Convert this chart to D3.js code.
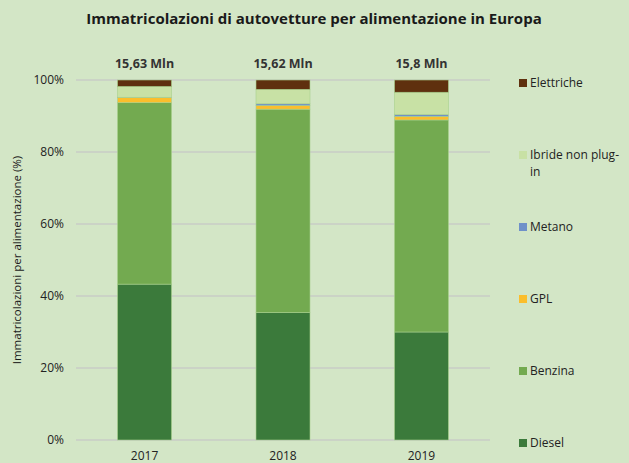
<!DOCTYPE html>
<html>
<head>
<meta charset="utf-8">
<script src="https://cdn.jsdelivr.net/npm/d3@7"></script>
<style>
  body { margin: 0; background: #d3e6c6; }
  svg { display: block; font-family: "Open Sans", Lato, sans-serif; }
</style>
</head>
<body>
<div class="main"></div>
<script>
const years = ["2017", "2018", "2019"];
const totals = ["15,63 Mln", "15,62 Mln", "15,8 Mln"];
const series = ["Diesel", "Benzina", "GPL", "Metano", "Ibride non plug-in", "Elettriche"];
const diesel = [43.3, 35.4, 30.0];
const benzina = [50.4, 56.5, 58.9];
const gpl = [1.4, 1.0, 1.0];
const metano = [0.1, 0.5, 0.5];
const ibride = [3.0, 4.0, 6.2];
const elettriche = [1.8, 2.6, 3.4];
const yTicks = [0, 20, 40, 60, 80, 100];

const colors = ["#3b7a3b", "#73aa50", "#fbbe2c", "#6f91c9", "#c8e1a5", "#5f300e"];

let fullwidth = 629;
let fullheight = 463;
let margin = { top: 80, right: 139, bottom: 23, left: 76 };
let width = fullwidth - margin.left - margin.right;
let height = fullheight - margin.top - margin.bottom;

const rows = years.map((y, i) => ({
  year: y,
  Diesel: diesel[i],
  Benzina: benzina[i],
  GPL: gpl[i],
  Metano: metano[i],
  "Ibride non plug-in": ibride[i],
  Elettriche: elettriche[i],
}));

const svg = d3
  .select(".main")
  .append("svg")
  .attr("width", fullwidth)
  .attr("height", fullheight);

svg.append("rect").attr("width", fullwidth).attr("height", fullheight).attr("fill", "#d3e6c6");

svg
  .append("text")
  .attr("x", 314)
  .attr("y", 24)
  .attr("text-anchor", "middle")
  .attr("font-size", 15)
  .attr("font-weight", "bold")
  .attr("fill", "#1a1a1a")
  .text("Immatricolazioni di autovetture per alimentazione in Europa");

const g = svg.append("g").attr("transform", "translate(" + margin.left + "," + margin.top + ")");

const x = d3.scaleBand().domain(years).range([0, width]).paddingInner(0.61).paddingOuter(0.3);
const y = d3.scaleLinear().domain([0, 100]).range([height, 0]);
const color = d3.scaleOrdinal().domain(series).range(colors);

// gridlines
g.append("g")
  .selectAll("line")
  .data(yTicks)
  .join("line")
  .attr("x1", 0)
  .attr("x2", width)
  .attr("y1", (d) => y(d))
  .attr("y2", (d) => y(d))
  .attr("stroke", "#c9cdc6")
  .attr("stroke-width", 1.5);

// y axis labels
g.append("g")
  .selectAll("text")
  .data(yTicks)
  .join("text")
  .attr("x", -12)
  .attr("y", (d) => y(d))
  .attr("dy", "0.35em")
  .attr("text-anchor", "end")
  .attr("font-size", 12)
  .attr("fill", "#222")
  .text((d) => d + "%");

svg
  .append("text")
  .attr("transform", "translate(21," + (margin.top + height / 2) + ") rotate(-90)")
  .attr("text-anchor", "middle")
  .attr("font-size", 11.5)
  .attr("fill", "#1a1a1a")
  .text("Immatricolazioni per alimentazione (%)");

const stacked = d3.stack().keys(series)(rows);

g.append("g")
  .selectAll("g")
  .data(stacked)
  .join("g")
  .attr("fill", (d) => color(d.key))
  .selectAll("rect")
  .data((d) => d)
  .join("rect")
  .attr("x", (d) => x(d.data.year))
  .attr("width", x.bandwidth())
  .attr("y", (d) => y(d[1]))
  .attr("height", (d) => y(d[0]) - y(d[1]))
  .attr("stroke", "#a8d08d")
  .attr("stroke-width", 0.6);

// x labels
g.append("g")
  .selectAll("text")
  .data(years)
  .join("text")
  .attr("x", (d) => x(d) + x.bandwidth() / 2)
  .attr("y", height + 20)
  .attr("text-anchor", "middle")
  .attr("font-size", 12)
  .attr("fill", "#222")
  .text((d) => d);

// totals
g.append("g")
  .selectAll("text")
  .data(years)
  .join("text")
  .attr("x", (d) => x(d) + x.bandwidth() / 2)
  .attr("y", -12)
  .attr("text-anchor", "middle")
  .attr("font-size", 12.5)
  .attr("font-weight", "bold")
  .attr("fill", "#333")
  .text((d, i) => totals[i]);

// legend, top to bottom
const legendItems = series.slice().reverse();
const lg = svg.append("g").attr("transform", "translate(519,0)");
legendItems.forEach((name, i) => {
  const ly = 83 + i * 72;
  lg.append("rect")
    .attr("x", 0)
    .attr("y", ly - 4)
    .attr("width", 8)
    .attr("height", 8)
    .attr("fill", color(name));
  const t = lg.append("text")
    .attr("x", 11)
    .attr("y", ly)
    .attr("dy", "0.35em")
    .attr("font-size", 12)
    .attr("fill", "#222");
  if (name === "Ibride non plug-in") {
    t.append("tspan").text("Ibride non plug-");
    t.append("tspan").attr("x", 11).attr("dy", 16.5).text("in");
  } else {
    t.text(name);
  }
});
</script>
</body>
</html>
